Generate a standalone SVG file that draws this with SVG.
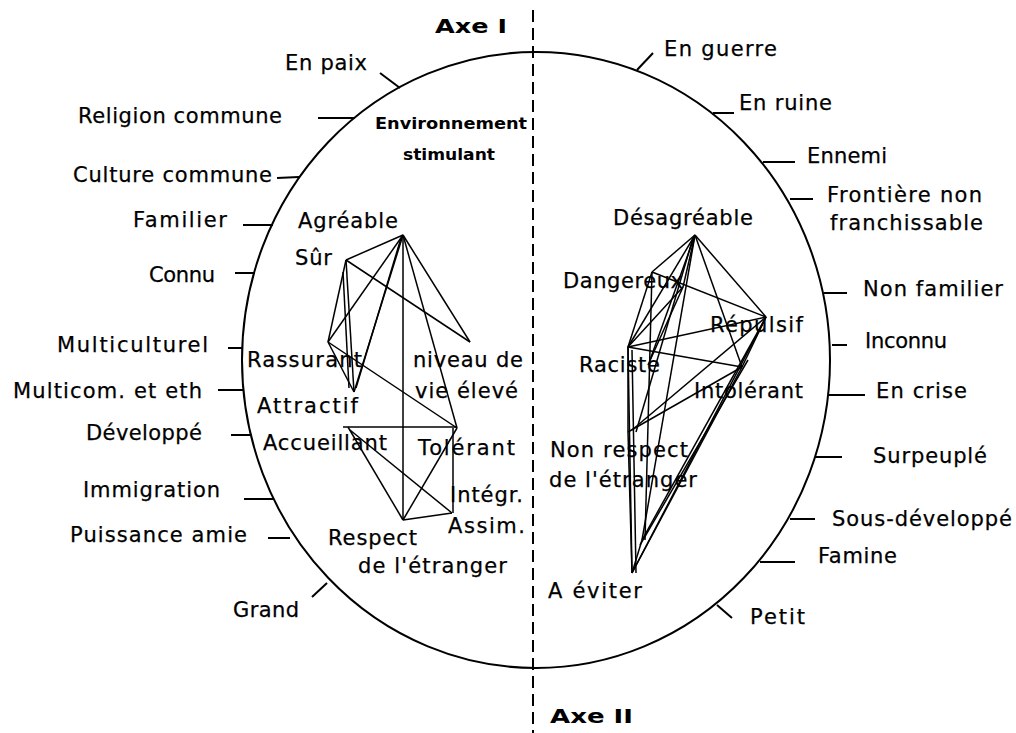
<svg xmlns="http://www.w3.org/2000/svg" width="1016" height="733" viewBox="0 0 1016 733">
<style>
.t{font-family:"DejaVu Sans","Liberation Sans",sans-serif;font-size:21px;fill:#000;stroke:#000;stroke-width:0.25}
.ax{font-family:"DejaVu Sans","Liberation Sans",sans-serif;font-size:19px;font-weight:bold;fill:#000}
.ch{font-family:"DejaVu Sans Condensed","DejaVu Sans",sans-serif;font-size:16px;font-weight:bold;fill:#000}
.tk{stroke:#000;stroke-width:2;fill:none}
.e{stroke:#000;stroke-width:1.5;fill:none}
</style>
<rect width="1016" height="733" fill="#fff"/>
<g id="frame">
<ellipse cx="536" cy="360" rx="294" ry="308" fill="none" stroke="#000" stroke-width="2"/>
<line x1="533" y1="10" x2="533" y2="733" stroke="#000" stroke-width="2" stroke-dasharray="12 6"/>
</g>
<g id="axe1"><text class="ax" x="435" y="33" textLength="72" lengthAdjust="spacingAndGlyphs">Axe I</text></g>
<g id="axe2"><text class="ax" x="550" y="723" textLength="83" lengthAdjust="spacingAndGlyphs">Axe II</text></g>
<g id="env"><text class="ch" x="375" y="129" textLength="152" lengthAdjust="spacingAndGlyphs">Environnement</text><text class="ch" x="403" y="160" textLength="92" lengthAdjust="spacingAndGlyphs">stimulant</text></g>

<!-- left pole labels -->
<g id="en-paix"><line class="tk" x1="380" y1="73" x2="400" y2="88"/><text class="t" x="285" y="70" textLength="82" lengthAdjust="spacing">En paix</text></g>
<g id="religion"><line class="tk" x1="318" y1="118" x2="355" y2="118"/><text class="t" x="78" y="123" textLength="204" lengthAdjust="spacing">Religion commune</text></g>
<g id="culture"><line class="tk" x1="277" y1="178" x2="299" y2="177"/><text class="t" x="73" y="182" textLength="199" lengthAdjust="spacing">Culture commune</text></g>
<g id="familier"><line class="tk" x1="243" y1="225" x2="273" y2="225"/><text class="t" x="133" y="227" textLength="94" lengthAdjust="spacing">Familier</text></g>
<g id="connu"><line class="tk" x1="235" y1="273" x2="255" y2="273"/><text class="t" x="149" y="282" textLength="66" lengthAdjust="spacing">Connu</text></g>
<g id="multiculturel"><line class="tk" x1="228" y1="348" x2="243" y2="348"/><text class="t" x="57" y="352" textLength="151" lengthAdjust="spacing">Multiculturel</text></g>
<g id="multicom"><line class="tk" x1="218" y1="390" x2="243" y2="390"/><text class="t" x="13" y="398" textLength="189" lengthAdjust="spacing">Multicom. et eth</text></g>
<g id="developpe"><line class="tk" x1="231" y1="435" x2="250" y2="435"/><text class="t" x="86" y="440" textLength="116" lengthAdjust="spacing">Développé</text></g>
<g id="immigration"><line class="tk" x1="244" y1="499" x2="273" y2="499"/><text class="t" x="83" y="497" textLength="137" lengthAdjust="spacing">Immigration</text></g>
<g id="puissance"><line class="tk" x1="268" y1="538" x2="290" y2="538"/><text class="t" x="70" y="542" textLength="177" lengthAdjust="spacing">Puissance amie</text></g>
<g id="grand"><line class="tk" x1="312" y1="597" x2="327" y2="583"/><text class="t" x="233" y="617" textLength="66" lengthAdjust="spacing">Grand</text></g>

<!-- right pole labels -->
<g id="en-guerre"><line class="tk" x1="637" y1="70" x2="653" y2="53"/><text class="t" x="664" y="56" textLength="113" lengthAdjust="spacing">En guerre</text></g>
<g id="en-ruine"><line class="tk" x1="713" y1="113" x2="734" y2="113"/><text class="t" x="739" y="110" textLength="93" lengthAdjust="spacing">En ruine</text></g>
<g id="ennemi"><line class="tk" x1="763" y1="162" x2="795" y2="162"/><text class="t" x="807" y="163" textLength="80" lengthAdjust="spacing">Ennemi</text></g>
<g id="frontiere"><line class="tk" x1="790" y1="199" x2="813" y2="199"/><text class="t" x="827" y="202" textLength="155" lengthAdjust="spacing">Frontière non</text><text class="t" x="830" y="230" textLength="153" lengthAdjust="spacing">franchissable</text></g>
<g id="non-familier"><line class="tk" x1="824" y1="293" x2="847" y2="293"/><text class="t" x="863" y="296" textLength="140" lengthAdjust="spacing">Non familier</text></g>
<g id="inconnu"><line class="tk" x1="832" y1="345" x2="847" y2="345"/><text class="t" x="865" y="348" textLength="82" lengthAdjust="spacing">Inconnu</text></g>
<g id="en-crise"><line class="tk" x1="828" y1="395" x2="865" y2="395"/><text class="t" x="876" y="398" textLength="91" lengthAdjust="spacing">En crise</text></g>
<g id="surpeuple"><line class="tk" x1="815" y1="457" x2="842" y2="457"/><text class="t" x="873" y="463" textLength="114" lengthAdjust="spacing">Surpeuplé</text></g>
<g id="sous-dev"><line class="tk" x1="790" y1="519" x2="815" y2="519"/><text class="t" x="832" y="526" textLength="180" lengthAdjust="spacing">Sous-développé</text></g>
<g id="famine"><line class="tk" x1="760" y1="562" x2="795" y2="562"/><text class="t" x="818" y="563" textLength="79" lengthAdjust="spacing">Famine</text></g>
<g id="petit"><line class="tk" x1="717" y1="605" x2="732" y2="618"/><text class="t" x="750" y="624" textLength="55" lengthAdjust="spacing">Petit</text></g>

<!-- connectors -->
<g id="connectors">
<line class="e" x1="403" y1="235" x2="346" y2="260"/>
<line class="e" x1="403" y1="235" x2="328" y2="342"/>
<line class="e" x1="403" y1="235" x2="354" y2="392"/>
<line class="e" x1="401" y1="238" x2="356" y2="388"/>
<line class="e" x1="403" y1="235" x2="403" y2="520"/>
<line class="e" x1="403" y1="235" x2="470" y2="342"/>
<line class="e" x1="403" y1="235" x2="457" y2="428"/>
<line class="e" x1="346" y1="260" x2="470" y2="342"/>
<line class="e" x1="346" y1="260" x2="328" y2="342"/>
<line class="e" x1="346" y1="260" x2="354" y2="392"/>
<line class="e" x1="343" y1="272" x2="349" y2="388"/>
<line class="e" x1="328" y1="342" x2="354" y2="392"/>
<line class="e" x1="328" y1="342" x2="457" y2="428"/>
<line class="e" x1="343" y1="427" x2="457" y2="427"/>
<line class="e" x1="348" y1="427" x2="403" y2="520"/>
<line class="e" x1="350" y1="430" x2="452" y2="513"/>
<line class="e" x1="457" y1="428" x2="403" y2="520"/>
<line class="e" x1="453" y1="428" x2="453" y2="513"/>
<line class="e" x1="452" y1="513" x2="403" y2="520"/>

<line class="e" x1="695" y1="235" x2="652" y2="272"/>
<line class="e" x1="695" y1="235" x2="628" y2="347"/>
<line class="e" x1="695" y1="235" x2="650" y2="360"/>
<line class="e" x1="695" y1="235" x2="642" y2="540"/>
<line class="e" x1="693" y1="238" x2="636" y2="432"/>
<line class="e" x1="695" y1="235" x2="766" y2="317"/>
<line class="e" x1="695" y1="235" x2="742" y2="367"/>
<line class="e" x1="695" y1="235" x2="683" y2="287"/>
<line class="e" x1="652" y1="272" x2="766" y2="317"/>
<line class="e" x1="652" y1="272" x2="628" y2="347"/>
<line class="e" x1="652" y1="272" x2="645" y2="540"/>
<line class="e" x1="683" y1="287" x2="628" y2="347"/>
<line class="e" x1="683" y1="287" x2="648" y2="365"/>
<line class="e" x1="628" y1="347" x2="766" y2="317"/>
<line class="e" x1="628" y1="347" x2="742" y2="367"/>
<line class="e" x1="628" y1="347" x2="632" y2="573"/>
<line class="e" x1="632" y1="350" x2="636" y2="573"/>
<line class="e" x1="628" y1="347" x2="628" y2="432"/>
<line class="e" x1="742" y1="367" x2="628" y2="432"/>
<line class="e" x1="766" y1="317" x2="632" y2="430"/>
<line class="e" x1="766" y1="317" x2="742" y2="367"/>
<line class="e" x1="766" y1="317" x2="632" y2="573"/>
<line class="e" x1="742" y1="367" x2="632" y2="573"/>
<line class="e" x1="766" y1="317" x2="642" y2="540"/>
<line class="e" x1="748" y1="360" x2="640" y2="545"/>
<line class="e" x1="642" y1="540" x2="632" y2="573"/>
<line class="e" x1="628" y1="432" x2="632" y2="573"/>
</g>

<!-- network node labels -->
<g id="agreable"><text class="t" x="298" y="228" textLength="100" lengthAdjust="spacing">Agréable</text></g>
<g id="sur"><text class="t" x="295" y="265" textLength="37" lengthAdjust="spacing">Sûr</text></g>
<g id="rassurant"><text class="t" x="247" y="367" textLength="115" lengthAdjust="spacing">Rassurant</text></g>
<g id="niveau"><text class="t" x="413" y="367" textLength="110" lengthAdjust="spacing">niveau de</text><text class="t" x="415" y="398" textLength="103" lengthAdjust="spacing">vie élevé</text></g>
<g id="attractif"><text class="t" x="257" y="413" textLength="101" lengthAdjust="spacing">Attractif</text></g>
<g id="accueillant"><text class="t" x="263" y="450" textLength="124" lengthAdjust="spacing">Accueillant</text></g>
<g id="tolerant"><text class="t" x="418" y="455" textLength="97" lengthAdjust="spacing">Tolérant</text></g>
<g id="integr"><text class="t" x="450" y="502" textLength="73" lengthAdjust="spacing">Intégr.</text><text class="t" x="448" y="533" textLength="77" lengthAdjust="spacing">Assim.</text></g>
<g id="respect"><text class="t" x="328" y="545" textLength="89" lengthAdjust="spacing">Respect</text><text class="t" x="358" y="573" textLength="149" lengthAdjust="spacing">de l'étranger</text></g>

<g id="desagreable"><text class="t" x="613" y="225" textLength="140" lengthAdjust="spacing">Désagréable</text></g>
<g id="dangereux"><text class="t" x="563" y="288" textLength="120" lengthAdjust="spacing">Dangereux</text></g>
<g id="repulsif"><text class="t" x="710" y="332" textLength="93" lengthAdjust="spacing">Répulsif</text></g>
<g id="raciste"><text class="t" x="579" y="372" textLength="81" lengthAdjust="spacing">Raciste</text></g>
<g id="intolerant"><text class="t" x="694" y="398" textLength="109" lengthAdjust="spacing">Intolérant</text></g>
<g id="non-respect"><text class="t" x="550" y="457" textLength="138" lengthAdjust="spacing">Non respect</text><text class="t" x="549" y="487" textLength="148" lengthAdjust="spacing">de l'étranger</text></g>
<g id="a-eviter"><text class="t" x="548" y="598" textLength="94" lengthAdjust="spacing">A éviter</text></g>
</svg>
